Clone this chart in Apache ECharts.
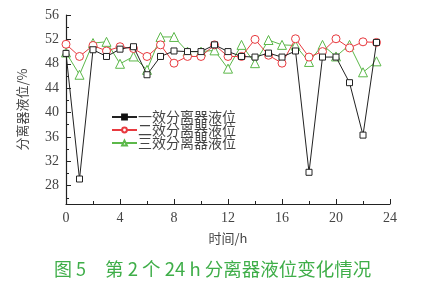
<!DOCTYPE html>
<html><head><meta charset="utf-8">
<script src="https://cdn.jsdelivr.net/npm/echarts@6/dist/echarts.min.js"></script>
<style>html,body{margin:0;padding:0;background:#fff}#c{width:434px;height:286px}</style>
</head><body><div id="c"></div>
<script>
const hours = [0,1,2,3,4,5,6,7,8,9,10,11,12,13,14,15,16,17,18,19,20,21,22,23];
const effect1 = [49.7,29.1,50.3,49.2,50.4,50.8,46.2,49.2,50.1,50.0,50.0,51.1,50.0,49.2,49.1,49.75,49.1,50.1,30.2,49.1,49.1,44.9,36.3,51.5];
const effect2 = [51.2,49.2,51.0,50.1,50.8,50.5,49.2,51.1,48.1,49.2,49.2,51.1,49.2,49.2,52.0,49.4,48.1,52.1,49.1,50.0,52.1,50.6,51.6,51.5];
const effect3 = [49.85,46.2,51.4,51.6,48.0,49.2,47.0,52.4,52.4,50.0,50.0,50.2,47.2,51.1,48.1,51.9,51.1,51.0,48.3,51.1,49.2,51.1,46.6,48.4];
const seriesNames = ['一效分离器液位','二效分离器液位','三效分离器液位'];
const yTicks = [28,32,36,40,44,48,52,56];
const yMinorTicks = [26,30,34,38,42,46,50,54];
const xName = '时间/h';
const yName = '分离器液位/%';
const captionA = '图 5';
const captionB = '第 2 个 24 h 分离器液位变化情况';

const toPts = arr => hours.map((h,i)=>[h,arr[i]]);
const serif = '"Liberation Serif","Noto Serif CJK SC","Noto Sans CJK SC",serif';
const cjk = '"Noto Sans CJK SC",sans-serif';
const axisColor = '#222';
const textColor = '#444';

const chart = echarts.init(document.getElementById('c'), null, {renderer:'canvas'});
chart.setOption({
  animation:false,
  backgroundColor:'#fff',
  grid:{left:66,right:44,top:15,bottom:82,containLabel:false},
  xAxis:{type:'value',min:0,max:24,interval:4,
    name:xName,nameLocation:'middle',nameGap:28,
    nameTextStyle:{fontFamily:cjk,fontSize:13,color:textColor},
    axisLine:{lineStyle:{color:axisColor,width:1.2}},
    axisTick:{inside:true,length:5,lineStyle:{color:axisColor}},
    minorTick:{show:true,splitNumber:2,length:3,lineStyle:{color:axisColor}},
    axisLabel:{fontFamily:serif,fontSize:14,color:textColor,margin:7},
    splitLine:{show:false}},
  yAxis:[{type:'value',min:25,max:56,
    name:yName,nameLocation:'middle',nameRotate:90,nameGap:37,
    nameTextStyle:{fontFamily:cjk,fontSize:13,color:textColor},
    axisLine:{show:true,lineStyle:{color:axisColor,width:1.2}},
    axisTick:{show:true,inside:true,length:5,customValues:yTicks,lineStyle:{color:axisColor}},
    axisLabel:{customValues:yTicks,fontFamily:serif,fontSize:14,color:textColor,margin:7},
    splitLine:{show:false}},
   {type:'value',min:25,max:56,position:'left',
    axisLine:{show:false},
    axisTick:{show:true,inside:true,length:3,customValues:yMinorTicks,lineStyle:{color:axisColor}},
    axisLabel:{show:false},splitLine:{show:false}}],
  legend:{orient:'vertical',left:106,top:105,itemWidth:25,itemHeight:6,itemGap:-1,
    textStyle:{fontFamily:cjk,fontSize:14,color:textColor,lineHeight:13,padding:[0,0,0,-4]},
    data:[
      {name:seriesNames[0],itemStyle:{color:'#111',borderColor:'#111'}},
      {name:seriesNames[1]},
      {name:seriesNames[2]}]},
  series:[
    {name:seriesNames[0],type:'line',data:toPts(effect1),symbol:'rect',symbolSize:6,
     lineStyle:{color:'#222',width:1},itemStyle:{color:'#fff',borderColor:'#222',borderWidth:1},z:3},
    {name:seriesNames[1],type:'line',data:toPts(effect2),symbol:'circle',symbolSize:8,
     lineStyle:{color:'#e83a3f',width:1},itemStyle:{color:'#fff',borderColor:'#e83a3f',borderWidth:1},z:2},
    {name:seriesNames[2],type:'line',data:toPts(effect3),symbol:'triangle',symbolSize:9,
     lineStyle:{color:'#5cb84a',width:1},itemStyle:{color:'#fff',borderColor:'#5cb84a',borderWidth:1},z:1}
  ],
  graphic:[
    {type:'text',left:54,top:260,style:{text:captionA,font:'18px '+cjk,fill:'#3fae49'}},
    {type:'text',left:105,top:260,style:{text:captionB,font:'18.5px '+cjk,fill:'#3fae49'}}
  ]
});
</script></body></html>
